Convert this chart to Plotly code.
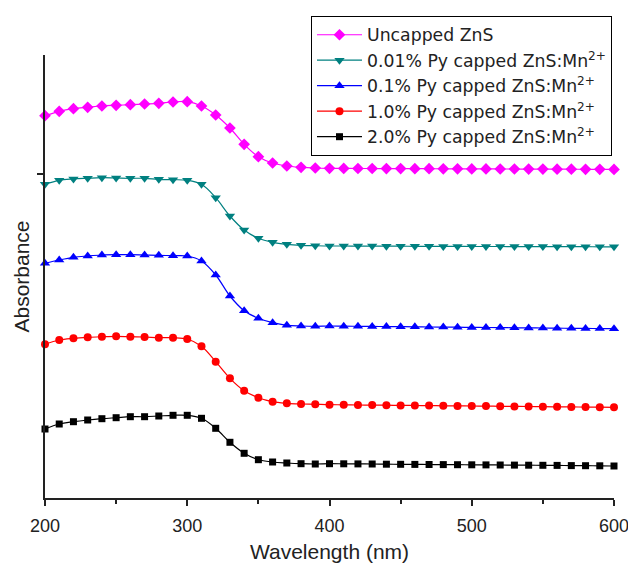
import plotly.graph_objects as go

wavelength = list(range(200, 601, 10))

uncapped = [3.823, 3.867, 3.893, 3.907, 3.920, 3.927, 3.933, 3.940, 3.947, 3.960,
            3.963, 3.920, 3.830, 3.700, 3.537, 3.413, 3.350, 3.320, 3.307, 3.300,
            3.297, 3.296, 3.295, 3.295, 3.294, 3.294, 3.293, 3.293, 3.292, 3.292,
            3.291, 3.291, 3.290, 3.290, 3.289, 3.289, 3.288, 3.288, 3.287, 3.287, 3.286]

py_001 = [3.137, 3.177, 3.190, 3.197, 3.203, 3.200, 3.197, 3.197, 3.187, 3.183,
          3.177, 3.137, 3.003, 2.820, 2.680, 2.597, 2.557, 2.537, 2.527, 2.523,
          2.520, 2.520, 2.519, 2.519, 2.518, 2.518, 2.517, 2.517, 2.516, 2.516,
          2.515, 2.515, 2.515, 2.514, 2.514, 2.514, 2.513, 2.513, 2.513, 2.512, 2.512]

py_01 = [2.347, 2.380, 2.407, 2.420, 2.430, 2.433, 2.433, 2.430, 2.427, 2.423,
         2.420, 2.370, 2.230, 2.020, 1.873, 1.797, 1.753, 1.727, 1.720, 1.717,
         1.720, 1.718, 1.717, 1.716, 1.714, 1.713, 1.712, 1.710, 1.709, 1.708,
         1.706, 1.705, 1.704, 1.702, 1.701, 1.700, 1.698, 1.697, 1.696, 1.694, 1.693]

py_10 = [1.537, 1.580, 1.597, 1.607, 1.613, 1.617, 1.613, 1.610, 1.603, 1.603,
         1.590, 1.517, 1.363, 1.197, 1.073, 1.003, 0.963, 0.947, 0.940, 0.937,
         0.933, 0.932, 0.930, 0.929, 0.928, 0.926, 0.925, 0.924, 0.922, 0.921,
         0.920, 0.919, 0.917, 0.916, 0.915, 0.913, 0.912, 0.911, 0.909, 0.908, 0.907]

py_20 = [0.690, 0.740, 0.763, 0.780, 0.793, 0.803, 0.813, 0.813, 0.820, 0.827,
         0.827, 0.797, 0.697, 0.557, 0.447, 0.383, 0.360, 0.350, 0.343, 0.340,
         0.343, 0.342, 0.341, 0.340, 0.338, 0.337, 0.336, 0.335, 0.334, 0.333,
         0.332, 0.331, 0.330, 0.329, 0.328, 0.327, 0.326, 0.324, 0.323, 0.322, 0.320]

names = ["Uncapped ZnS",
         "0.01% Py capped ZnS:Mn<sup>2+</sup>",
         "0.1% Py capped ZnS:Mn<sup>2+</sup>",
         "1.0% Py capped ZnS:Mn<sup>2+</sup>",
         "2.0% Py capped ZnS:Mn<sup>2+</sup>"]
series = [uncapped, py_001, py_01, py_10, py_20]
colors = ["#FF00FF", "#008080", "#0000FF", "#FF0000", "#000000"]
symbols = ["diamond", "triangle-down", "triangle-up", "circle", "square"]
sizes = [9, 9, 9, 8, 7]

fig = go.Figure()
for nm, ys, c, s, sz in zip(names, series, colors, symbols, sizes):
    fig.add_trace(go.Scatter(
        x=wavelength, y=ys, name=nm, mode="lines+markers",
        line=dict(color=c, width=1.2, shape="spline"),
        marker=dict(color=c, symbol=s, size=sz, line=dict(width=0)),
        cliponaxis=False,
    ))

fig.update_layout(
    width=628, height=567,
    margin=dict(l=45, r=14, t=55, b=69, autoexpand=False),
    paper_bgcolor="white", plot_bgcolor="white",
    font=dict(family="Liberation Sans, Arial, sans-serif", color="#222", size=18),
    showlegend=True,
    legend=dict(
        xref="container", yref="container",
        x=0.9745, y=0.9718, xanchor="right", yanchor="top",
        bordercolor="black", borderwidth=1, bgcolor="white",
        font=dict(family="DejaVu Sans, Liberation Sans, sans-serif", size=17.3, color="#222"),
        itemwidth=45, tracegroupgap=0,
    ),
    xaxis=dict(
        range=[200, 600], tickvals=[200, 300, 400, 500, 600],
        ticks="outside", ticklen=6, tickwidth=1.5, tickcolor="#222",
        showline=True, linecolor="#222", linewidth=2,
        showgrid=False, zeroline=False, automargin=False,
        ticklabelstandoff=4, ticklabeloverflow="allow",
        minor=dict(tickvals=[250, 350, 450, 550], ticks="outside", ticklen=4,
                   tickwidth=1.5, tickcolor="#222", showgrid=False),
        title=dict(text="Wavelength (nm)", font=dict(size=21), standoff=10),
        tickfont=dict(size=18),
    ),
    yaxis=dict(
        range=[0, 4.43], tickvals=[3.24], showticklabels=False,
        ticks="outside", ticklen=6, tickwidth=1.5, tickcolor="#222",
        showline=True, linecolor="#222", linewidth=2,
        showgrid=False, zeroline=False, automargin=False,
        title=dict(text="Absorbance", font=dict(size=21), standoff=2),
    ),
)

fig.write_html("out.html", config={"displayModeBar": False},
               post_script="document.body.style.margin='0';")
